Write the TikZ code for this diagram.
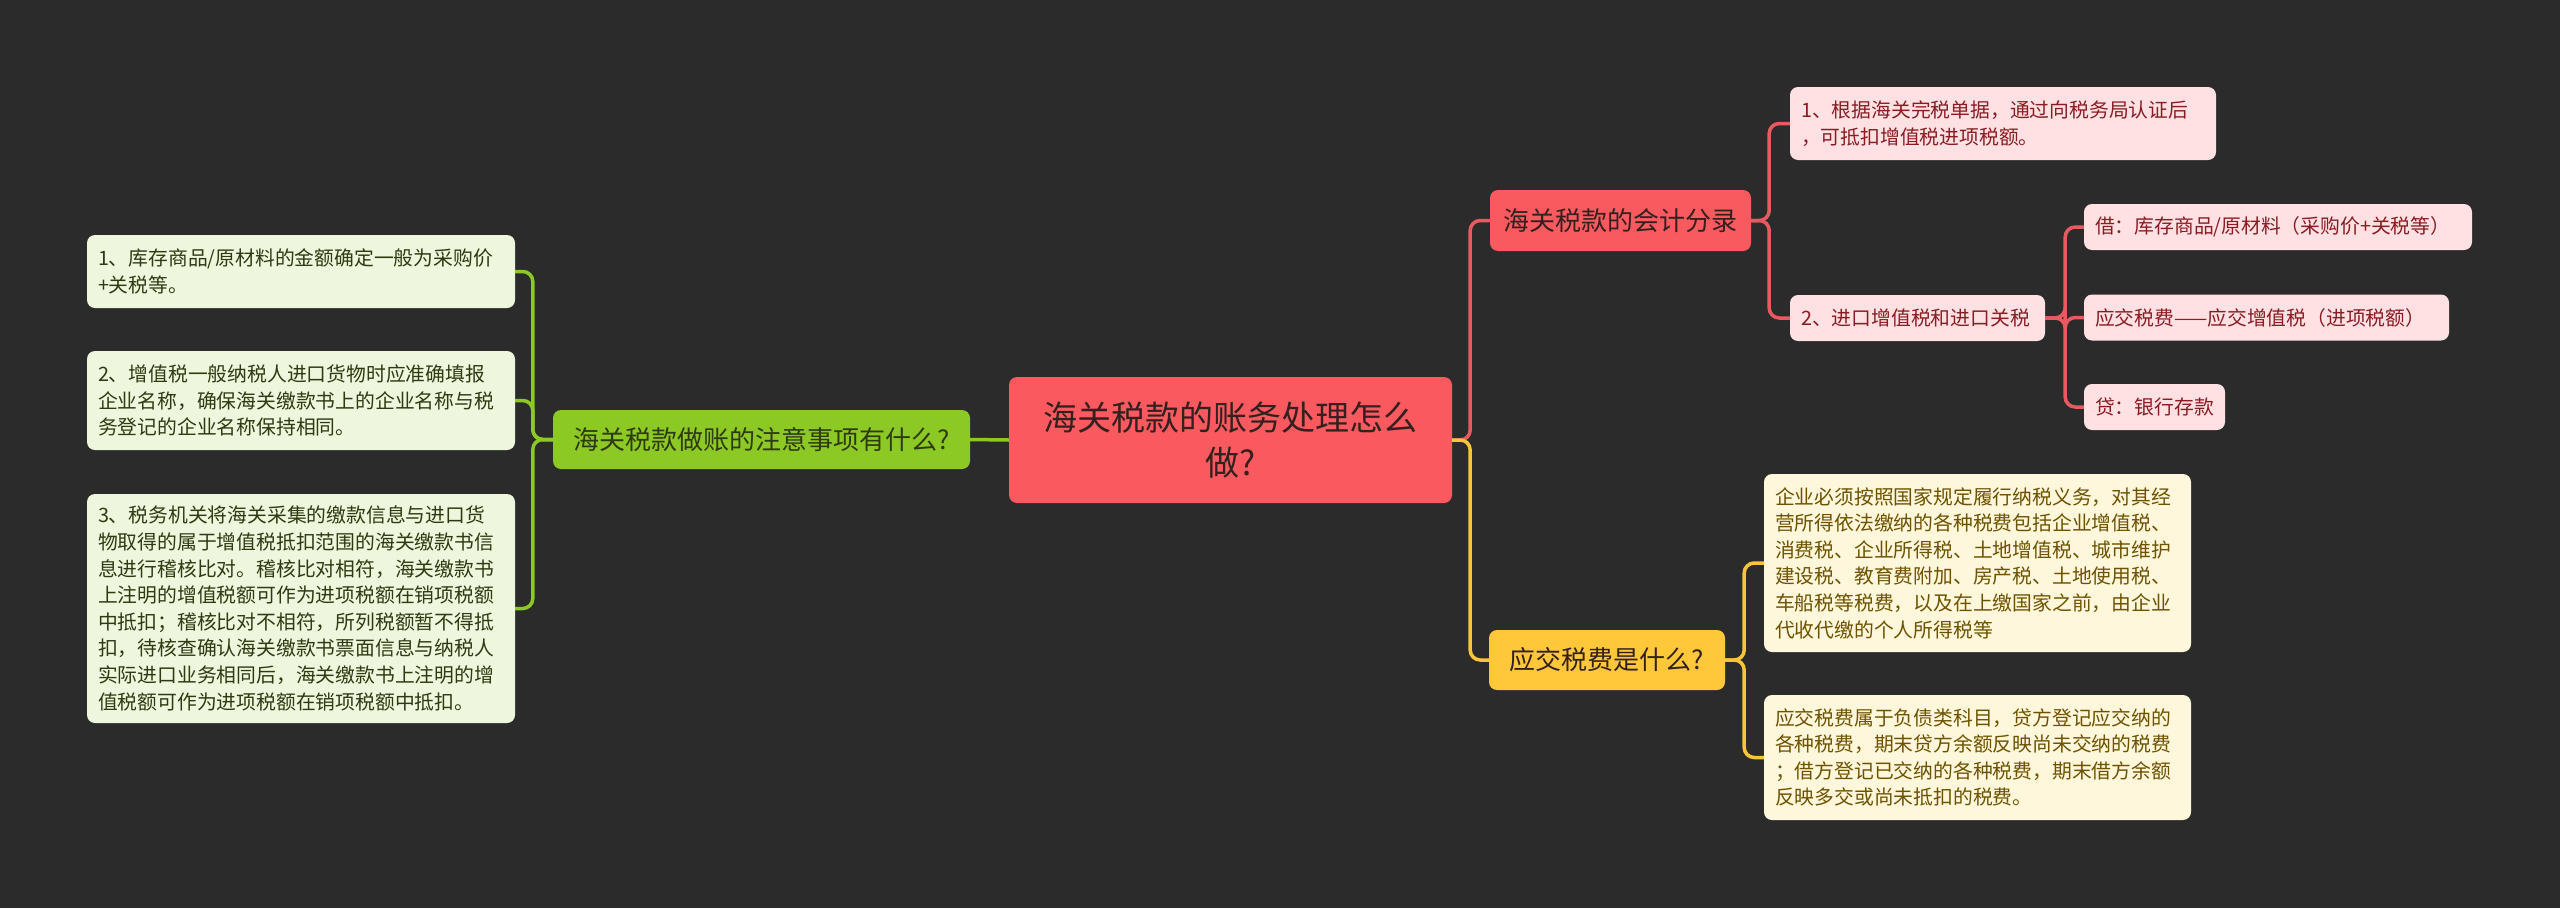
\documentclass[tikz,border=0pt]{standalone}
\usepackage{fontspec}
\setmainfont{Noto Sans CJK SC}
\newcommand{\zcm}{\char"FF0C\relax}
\newcommand{\zcl}{\char"FF1A\relax}
\newcommand{\zlp}{\char"FF08\relax}
\newcommand{\zrp}{\char"FF09\relax}
\newcommand{\zsc}{\char"FF1B\relax}
\definecolor{bg}{HTML}{2B2B2B}
\definecolor{cfill}{HTML}{FA5A5F}
\definecolor{ctext}{HTML}{35201F}
\definecolor{rfill}{HTML}{F95A5F}
\definecolor{rleaf}{HTML}{FFE1E4}
\definecolor{rtext}{HTML}{8A1C22}
\definecolor{rline}{HTML}{E85A60}
\definecolor{gfill}{HTML}{8DC925}
\definecolor{gleaf}{HTML}{EEF6DD}
\definecolor{gtext}{HTML}{2E3A12}
\definecolor{gline}{HTML}{8DC925}
\definecolor{yfill}{HTML}{FFC83B}
\definecolor{yleaf}{HTML}{FFF7DB}
\definecolor{ytext}{HTML}{6E5200}
\definecolor{yline}{HTML}{F7C53A}
\begin{document}
\begin{tikzpicture}[x=1pt,y=-1pt,
  boxbase/.style={rounded corners=8pt, inner sep=0pt, anchor=center},
  leaf/.style={boxbase, align=left, font=\fontsize{19.8}{26.6}\selectfont},
  mainbox/.style={boxbase, align=center, font=\fontsize{26}{34}\selectfont},
  centerbox/.style={boxbase, align=center, fill=cfill, text=ctext, font=\fontsize{34}{45}\selectfont},
  gleafbox/.style={leaf, fill=gleaf, text=gtext},
  rleafbox/.style={leaf, fill=rleaf, text=rtext},
  yleafbox/.style={leaf, fill=yleaf, text=ytext},
  gmain/.style={mainbox, fill=gfill, text=gtext},
  rmain/.style={mainbox, fill=rfill, text=ctext},
  ymain/.style={mainbox, fill=yfill, text=ctext},
  conn/.style={line width=3.5pt, rounded corners=10pt},
  gconn/.style={conn, draw=gline},
  rconn/.style={conn, draw=rline},
  yconn/.style={conn, draw=yline}]
\fill[bg] (0,0) rectangle (2560,908);
\useasboundingbox (0,0) rectangle (2560,908);

% central
\node[centerbox, minimum width=443pt, minimum height=126pt] (C) at (1230.5,440) {海关税款的账务处理怎么\\做?};

% green branch
\node[gmain, minimum width=417pt, minimum height=59pt] (G) at (761.5,439.5) {海关税款做账的注意事项有什么?};
\node[gleafbox, minimum width=428pt, minimum height=73pt, text width=406pt] (g1) at (301,271.5) {1、库存商品/原材料的金额确定一般为采购价\\+关税等。};
\node[gleafbox, minimum width=428pt, minimum height=99pt, text width=406pt] (g2) at (301,400.5) {2、增值税一般纳税人进口货物时应准确填报\\企业名称\zcm 确保海关缴款书上的企业名称与税\\务登记的企业名称保持相同。};
\node[gleafbox, minimum width=428pt, minimum height=229pt, text width=406pt] (g3) at (301,608.5) {3、税务机关将海关采集的缴款信息与进口货\\物取得的属于增值税抵扣范围的海关缴款书信\\息进行稽核比对。稽核比对相符\zcm 海关缴款书\\上注明的增值税额可作为进项税额在销项税额\\中抵扣\zsc 稽核比对不相符\zcm 所列税额暂不得抵\\扣\zcm 待核查确认海关缴款书票面信息与纳税人\\实际进口业务相同后\zcm 海关缴款书上注明的增\\值税额可作为进项税额在销项税额中抵扣。};

% red branch
\node[rmain, minimum width=261pt, minimum height=61pt] (R) at (1620.5,220.5) {海关税款的会计分录};
\node[rleafbox, minimum width=426pt, minimum height=73pt, text width=404pt] (r1) at (2003,123.5) {1、根据海关完税单据\zcm 通过向税务局认证后\\\zcm 可抵扣增值税进项税额。};
\node[rleafbox, minimum width=255pt, minimum height=46pt, text width=233pt] (r2) at (1917.5,318) {2、进口增值税和进口关税};
\node[rleafbox, minimum width=388pt, minimum height=46pt, text width=366pt] (r2a) at (2278,227) {借\zcl 库存商品/原材料\zlp 采购价+关税等\zrp};
\node[rleafbox, minimum width=365pt, minimum height=46pt, text width=343pt] (r2b) at (2266.5,317.5) {应交税费——应交增值税\zlp 进项税额\zrp};
\node[rleafbox, minimum width=141pt, minimum height=46pt, text width=119pt] (r2c) at (2154.5,407) {贷\zcl 银行存款};

% yellow branch
\node[ymain, minimum width=236pt, minimum height=60pt] (Y) at (1607,660) {应交税费是什么?};
\node[yleafbox, minimum width=427pt, minimum height=178pt, text width=405pt] (y1) at (1977.5,563) {企业必须按照国家规定履行纳税义务\zcm 对其经\\营所得依法缴纳的各种税费包括企业增值税、\\消费税、企业所得税、土地增值税、城市维护\\建设税、教育费附加、房产税、土地使用税、\\车船税等税费\zcm 以及在上缴国家之前\zcm 由企业\\代收代缴的个人所得税等};
\node[yleafbox, minimum width=427pt, minimum height=125pt, text width=405pt] (y2) at (1977.5,757.5) {应交税费属于负债类科目\zcm 贷方登记应交纳的\\各种税费\zcm 期末贷方余额反映尚未交纳的税费\\\zsc 借方登记已交纳的各种税费\zcm 期末借方余额\\反映多交或尚未抵扣的税费。};

% connectors
\draw[gconn] (C.west) -- (G.east);
\draw[gconn] (G.west) -- +(-20,0) |- (g1.east);
\draw[gconn] (G.west) -- +(-20,0) |- (g2.east);
\draw[gconn] (G.west) -- +(-20,0) |- (g3.east);
\draw[rconn] (C.east) -- +(18,0) |- (R.west);
\draw[yconn] (C.east) -- +(18,0) |- (Y.west);
\draw[rconn] (R.east) -- +(18,0) |- (r1.west);
\draw[rconn] (R.east) -- +(18,0) |- (r2.west);
\draw[rconn] (r2.east) -- +(20,0) |- (r2a.west);
\draw[rconn] (r2.east) -- +(20,0) |- (r2b.west);
\draw[rconn] (r2.east) -- +(20,0) |- (r2c.west);
\draw[yconn] (Y.east) -- +(19,0) |- (y1.west);
\draw[yconn] (Y.east) -- +(19,0) |- (y2.west);
\end{tikzpicture}
\end{document}
